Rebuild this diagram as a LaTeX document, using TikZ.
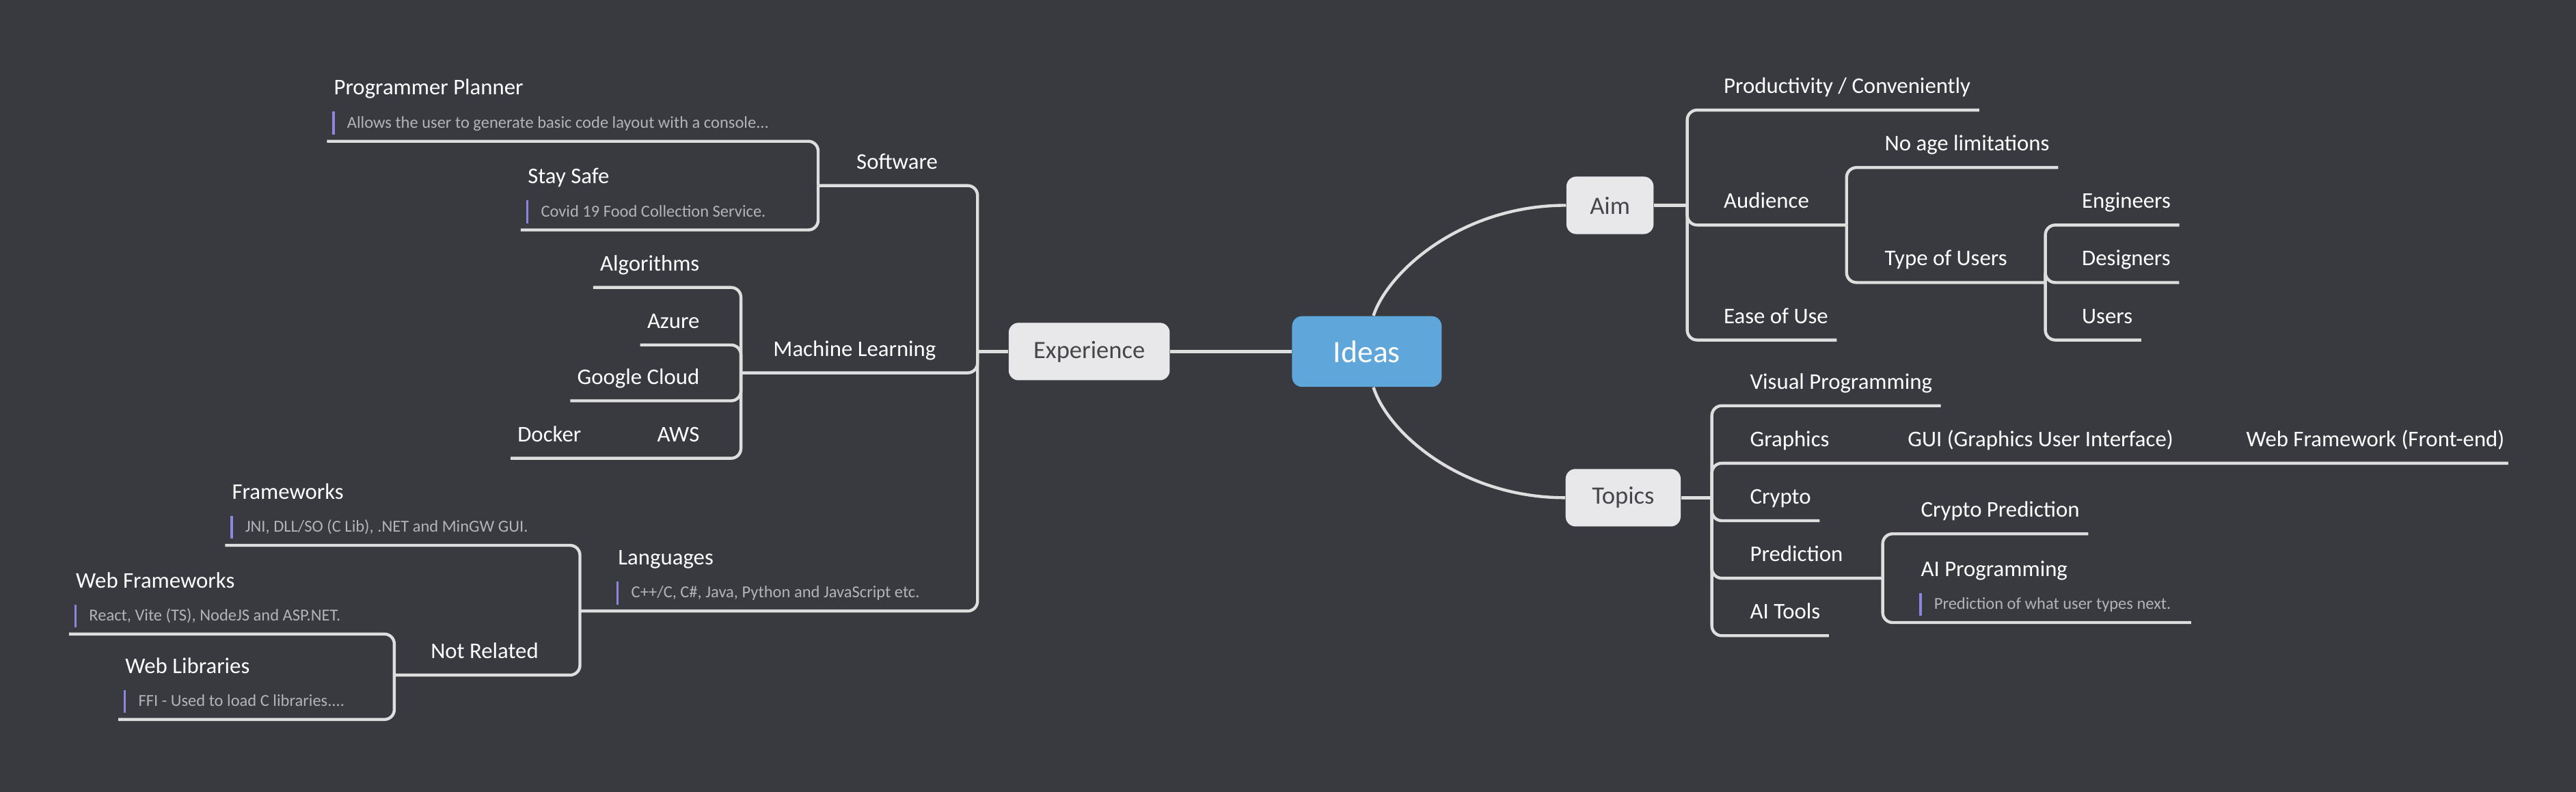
\documentclass[tikz,border=0pt]{standalone}
\usepackage{fontspec}
\setmainfont{Carlito}
\definecolor{bgcol}{HTML}{393A40}
\definecolor{linecol}{HTML}{DEDEDE}
\definecolor{boxcol}{HTML}{E8E8EA}
\definecolor{boxtext}{HTML}{46464A}
\definecolor{ideablue}{HTML}{5FA7DA}
\definecolor{notetext}{HTML}{B4B4B8}
\definecolor{barcol}{HTML}{8B86E0}
\begin{document}
\begin{tikzpicture}[x=0.025cm,y=-0.025cm,
	branch/.style={draw=linecol,line width=1.3pt,rounded corners=0.15cm},
	bar/.style={draw=barcol,line width=1pt},
	central/.style={fill=ideablue,text=white,rounded corners=0.15cm,minimum width=2.275cm,minimum height=1.075cm,font=\fontsize{13.5}{16}\selectfont},
	mainbox/.style={fill=boxcol,text=boxtext,rounded corners=0.15cm,minimum height=0.875cm,font=\fontsize{10.8}{13}\selectfont},
	tpr/.style={anchor=south west,inner xsep=0pt,inner ysep=0.16cm,text depth=0.25em,text=white,font=\fontsize{9.7}{11.5}\selectfont},
	tpl/.style={tpr,anchor=south east},
	note/.style={anchor=south west,inner xsep=0pt,inner ysep=0.105cm,text depth=0.25em,text=notetext,font=\fontsize{7.25}{8.5}\selectfont}]
	\fill[bgcol] (0,0) rectangle (1568,482);
	\useasboundingbox (0,0) rectangle (1568,482);
	% centre and main topics
	\node[central] (ideas) at (832,214) {Ideas};
	\node[mainbox,minimum width=2.45cm] (experience) at (663,214) {Experience};
	\node[mainbox,minimum width=1.325cm] (aim) at (980,125) {Aim};
	\node[mainbox,minimum width=1.75cm] (topics) at (988,303) {Topics};
	\draw[branch] (experience.east) -- (ideas.west);
	\draw[branch] ([xshift=0.1cm]ideas.north) .. controls (845,165) and (890,125) .. (aim.west);
	\draw[branch] ([xshift=0.1cm]ideas.south) .. controls (845,264) and (890,303) .. (topics.west);
	% spines
	\coordinate (aimS) at (1027,125);
	\coordinate (audS) at (1124,137);
	\coordinate (typS) at (1245,172);
	\coordinate (topS) at (1042,303);
	\coordinate (gfxS) at (1139,282);
	\coordinate (guiS) at (1345,282);
	\coordinate (predS) at (1146,352);
	\coordinate (expS) at (595,214);
	\coordinate (swS) at (498,113);
	\coordinate (mlS) at (451,227);
	\coordinate (awsS) at (398,279);
	\coordinate (langS) at (353,372);
	\coordinate (nrS) at (240,411);
	% Aim
	\node[tpr] (prod) at (1049,67) {Productivity / Conveniently};
	\node[tpr] (aud) at (1049,137) {Audience};
	\node[tpr] (ease) at (1049,207) {Ease of Use};
	\node[tpr] (noage) at (1147,102) {No age limitations};
	\node[tpr] (types) at (1147,172) {Type of Users};
	\node[tpr] (eng) at (1267,137) {Engineers};
	\node[tpr] (des) at (1267,172) {Designers};
	\node[tpr] (users) at (1267,207) {Users};
	\draw[branch] (aim.east) -- (aimS);
	\draw[branch] (aimS) |- ([xshift=0.125cm]prod.south east);
	\draw[branch] (aimS) |- (audS);
	\draw[branch] (aimS) |- ([xshift=0.125cm]ease.south east);
	\draw[branch] (audS) |- ([xshift=0.125cm]noage.south east);
	\draw[branch] (audS) |- (typS);
	\draw[branch] (typS) |- ([xshift=0.125cm]eng.south east);
	\draw[branch] (typS) |- ([xshift=0.125cm]des.south east);
	\draw[branch] (typS) |- ([xshift=0.125cm]users.south east);
	% Topics
	\node[tpr] (vis) at (1065,247) {Visual Programming};
	\node[tpr] (gfx) at (1065,282) {Graphics};
	\node[tpr] (gui) at (1161,282) {GUI (Graphics User Interface)};
	\node[tpr] (web) at (1367,282) {Web Framework (Front-end)};
	\node[tpr] (crypto) at (1065,317) {Crypto};
	\node[tpr] (pred) at (1065,352) {Prediction};
	\node[tpr] (aitools) at (1065,387) {AI Tools};
	\node[tpr] (cpred) at (1169,325) {Crypto Prediction};
	\node[note] (aipn) at (1177,379) {Prediction of what user types next.};
	\node[tpr] (aip) at (1169,361) {AI Programming};
	\draw[bar] ([xshift=-0.2cm]aipn.south west) ++(0,-4) -- ++(0,-14);
	\draw[branch] (topics.east) -- (topS);
	\draw[branch] (topS) |- ([xshift=0.125cm]vis.south east);
	\draw[branch] (topS) |- (gfxS) -- (guiS) -- ([xshift=0.05cm]web.south east);
	\draw[branch] (topS) |- ([xshift=0.125cm]crypto.south east);
	\draw[branch] (topS) |- (predS);
	\draw[branch] (topS) |- ([xshift=0.125cm]aitools.south east);
	\draw[branch] (predS) |- ([xshift=0.125cm]cpred.south east);
	\draw[branch] (predS) |- ([xshift=0.3cm]aipn.south east);
	% Experience
	\node[tpl] (sw) at (571,113) {Software};
	\node[note] (ppn) at (211,86) {Allows the user to generate basic code layout with a console...};
	\node[tpr] (pp) at (203,68) {Programmer Planner};
	\node[note] (ssn) at (329,140) {Covid 19 Food Collection Service.};
	\node[tpr] (ss) at (321,122) {Stay Safe};
	\node[tpl] (ml) at (570,227) {Machine Learning};
	\node[tpl] (algo) at (426,175) {Algorithms};
	\node[tpl] (azure) at (426,210) {Azure};
	\node[tpl] (gcloud) at (426,244) {Google Cloud};
	\node[tpl] (aws) at (426,279) {AWS};
	\node[tpl] (docker) at (354,279) {Docker};
	\node[note] (langn) at (384,372) {C++/C, C\#, Java, Python and JavaScript etc.};
	\node[tpr] (lang) at (376,354) {Languages};
	\node[note] (fwn) at (149,332) {JNI, DLL/SO (C Lib), .NET and MinGW GUI.};
	\node[tpr] (fw) at (141,314) {Frameworks};
	\node[tpl] (nr) at (328,411) {Not Related};
	\node[note] (wfn) at (54,386) {React, Vite (TS), NodeJS and ASP.NET.};
	\node[tpr] (wf) at (46,368) {Web Frameworks};
	\node[note] (wln) at (84,438) {FFI - Used to load C libraries....};
	\node[tpr] (wl) at (76,420) {Web Libraries};
	\draw[bar] ([xshift=-0.2cm]ppn.south west) ++(0,-4) -- ++(0,-14);
	\draw[bar] ([xshift=-0.2cm]ssn.south west) ++(0,-4) -- ++(0,-14);
	\draw[bar] ([xshift=-0.2cm]langn.south west) ++(0,-4) -- ++(0,-14);
	\draw[bar] ([xshift=-0.2cm]fwn.south west) ++(0,-4) -- ++(0,-14);
	\draw[bar] ([xshift=-0.2cm]wfn.south west) ++(0,-4) -- ++(0,-14);
	\draw[bar] ([xshift=-0.2cm]wln.south west) ++(0,-4) -- ++(0,-14);
	\draw[branch] (experience.west) -- (expS);
	\draw[branch] (expS) |- (swS);
	\draw[branch] (swS) |- ([xshift=-0.1cm]pp.west |- ppn.south);
	\draw[branch] (swS) |- ([xshift=-0.1cm]ss.west |- ssn.south);
	\draw[branch] (expS) |- (mlS);
	\draw[branch] (mlS) |- ([xshift=-0.1cm]algo.south west);
	\draw[branch] (mlS) |- ([xshift=-0.1cm]azure.south west);
	\draw[branch] (mlS) |- ([xshift=-0.1cm]gcloud.south west);
	\draw[branch] (mlS) |- (awsS) -- ([xshift=-0.1cm]docker.south west);
	\draw[branch] (expS) |- (langS);
	\draw[branch] (langS) |- ([xshift=-0.1cm]fw.west |- fwn.south);
	\draw[branch] (langS) |- (nrS);
	\draw[branch] (nrS) |- ([xshift=-0.1cm]wf.west |- wfn.south);
	\draw[branch] (nrS) |- ([xshift=-0.1cm]wl.west |- wln.south);
\end{tikzpicture}
\end{document}
